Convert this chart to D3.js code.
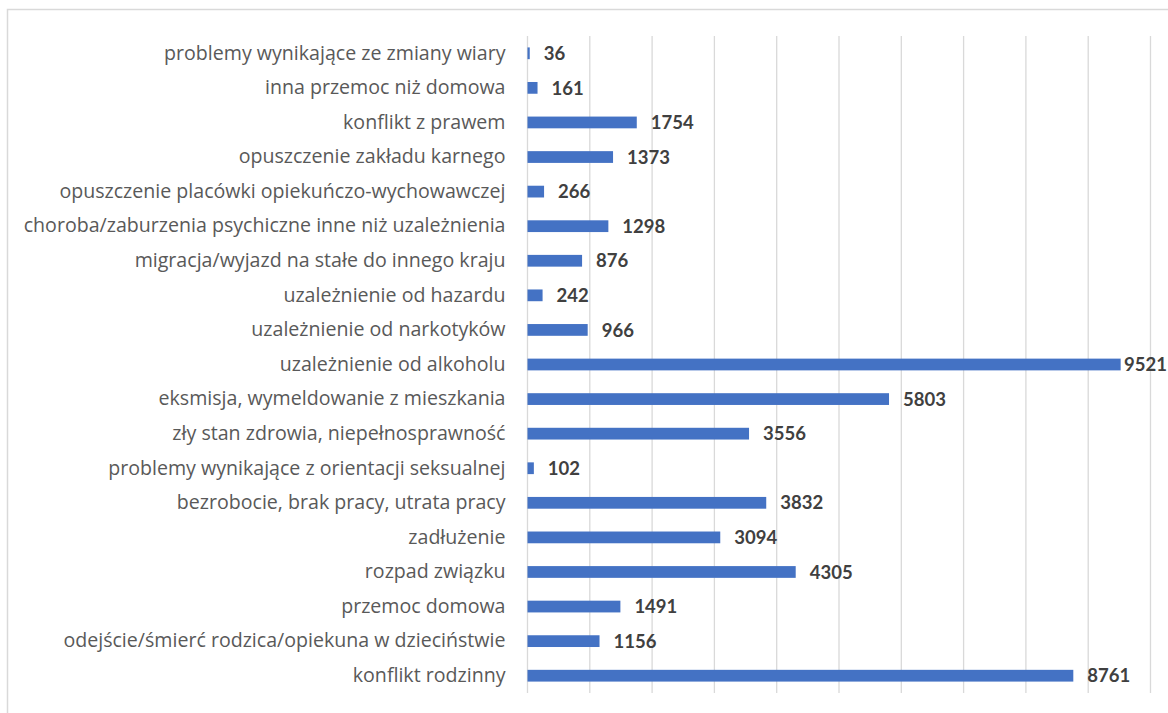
<!DOCTYPE html>
<html>
<head>
<meta charset="utf-8">
<title>Przyczyny bezdomności</title>
<script src="https://d3js.org/d3.v7.min.js"></script>
<style>
  body { margin: 0; background: #fff; }
</style>
</head>
<body>
<svg id="chart" width="1168" height="713"></svg>
<script>
// categories, top to bottom
var categories = [
  "problemy wynikające ze zmiany wiary",
  "inna przemoc niż domowa",
  "konflikt z prawem",
  "opuszczenie zakładu karnego",
  "opuszczenie placówki opiekuńczo-wychowawczej",
  "choroba/zaburzenia psychiczne inne niż uzależnienia",
  "migracja/wyjazd na stałe do innego kraju",
  "uzależnienie od hazardu",
  "uzależnienie od narkotyków",
  "uzależnienie od alkoholu",
  "eksmisja, wymeldowanie z mieszkania",
  "zły stan zdrowia, niepełnosprawność",
  "problemy wynikające z orientacji seksualnej",
  "bezrobocie, brak pracy, utrata pracy",
  "zadłużenie",
  "rozpad związku",
  "przemoc domowa",
  "odejście/śmierć rodzica/opiekuna w dzieciństwie",
  "konflikt rodzinny"
];
var values = [36, 161, 1754, 1373, 266, 1298, 876, 242, 966, 9521, 5803, 3556, 102, 3832, 3094, 4305, 1491, 1156, 8761];
var gridTicks = [0, 1000, 2000, 3000, 4000, 5000, 6000, 7000, 8000, 9000, 10000];

var svg = d3.select("#chart");

// outer chart border (runs off the right and bottom of the picture)
svg.append("rect").attr("x", 7.5).attr("y", 9.5).attr("width", 1300).attr("height", 900)
  .attr("fill", "none").attr("stroke", "#d9d9d9").attr("stroke-width", 1.5);

var x = d3.scaleLinear().domain([0, 10000]).range([527.5, 1150.5]);
var y = d3.scaleBand().domain(categories).range([36, 693]).paddingInner(0.66).paddingOuter(0.33);

// vertical gridlines
svg.append("g").selectAll("line").data(gridTicks).enter().append("line")
  .attr("x1", function(d) { return x(d); }).attr("x2", function(d) { return x(d); })
  .attr("y1", 36).attr("y2", 693)
  .attr("stroke", "#d9d9d9").attr("stroke-width", 1.3);

// category labels via axis
var yAxis = svg.append("g").attr("transform", "translate(" + x(0) + ",0)")
  .call(d3.axisLeft(y).tickSize(0).tickPadding(22));
yAxis.select(".domain").remove();
yAxis.selectAll("text")
  .style("font-family", "'Open Sans', sans-serif").style("font-size", "19.6px").attr("fill", "#595959");

// bars
svg.append("g").selectAll("rect").data(values).enter().append("rect")
  .attr("x", x(0))
  .attr("y", function(d, i) { return y(categories[i]); })
  .attr("width", function(d) { return x(d) - x(0); })
  .attr("height", y.bandwidth())
  .attr("fill", "#4472c4");

// value labels (pushed back inside the chart when they would run off the edge)
svg.append("g").selectAll("text").data(values).enter().append("text")
  .attr("x", function(d) { return x(d) + 14; })
  .attr("y", function(d, i) { return y(categories[i]) + y.bandwidth() / 2; })
  .attr("dy", "0.36em")
  .style("font-family", "Lato, sans-serif").style("font-size", "18.5px").style("font-weight", "bold")
  .attr("fill", "#404040")
  .text(function(d) { return d; })
  .each(function(d) {
    var w = this.getComputedTextLength();
    if (x(d) + 14 + w > 1167) d3.select(this).attr("x", 1167 - w);
  });
</script>
</body>
</html>
